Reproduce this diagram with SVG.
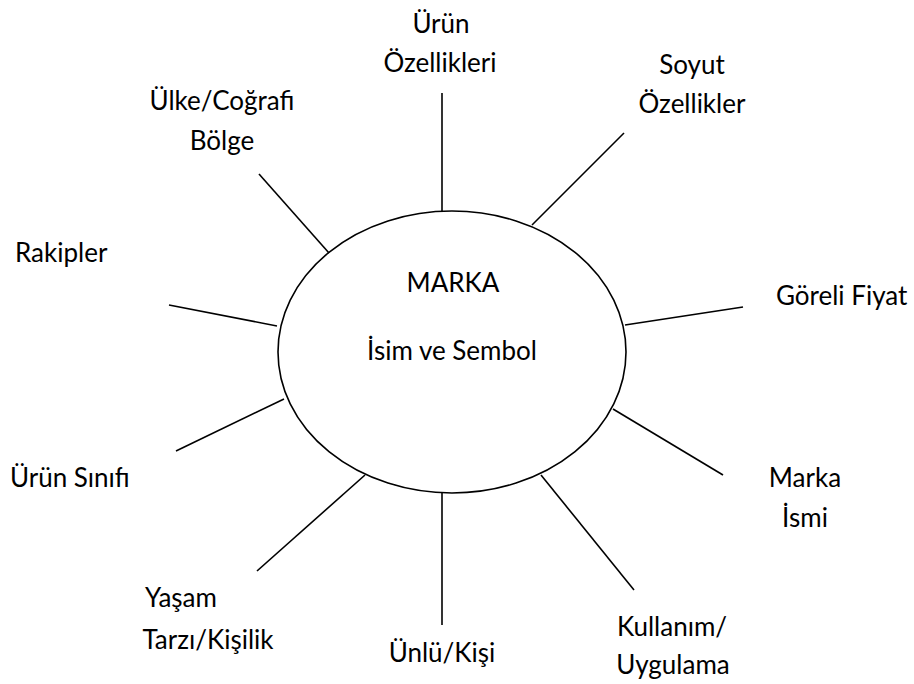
<svg xmlns="http://www.w3.org/2000/svg" width="914" height="684" viewBox="0 0 914 684">
  <style>
    .ln { stroke: #000; stroke-width: 1.6; fill: none; }
    .lbl { font-family: Lato, "Open Sans", "Liberation Sans", sans-serif; font-size: 26px; fill: #000; }
    .c { text-anchor: middle; }
  </style>
  <rect width="914" height="684" fill="#fff"/>

  <!-- spokes -->
  <g id="connectors">
    <line class="ln" x1="442" y1="93" x2="442" y2="212"/>
    <line class="ln" x1="624" y1="133" x2="532" y2="225"/>
    <line class="ln" x1="259" y1="174" x2="329" y2="253"/>
    <line class="ln" x1="169" y1="305" x2="277" y2="326"/>
    <line class="ln" x1="176" y1="451" x2="284" y2="399"/>
    <line class="ln" x1="625" y1="325" x2="743" y2="307"/>
    <line class="ln" x1="613" y1="409" x2="723" y2="475"/>
    <line class="ln" x1="365" y1="475" x2="257" y2="571"/>
    <line class="ln" x1="442" y1="493" x2="442" y2="625"/>
    <line class="ln" x1="541" y1="475" x2="634" y2="590"/>
  </g>

  <g id="marka">
    <ellipse class="ln" cx="452" cy="352" rx="174" ry="141"/>
    <text class="lbl c" x="453" y="292">MARKA</text>
    <text class="lbl c" x="452" y="360">İsim ve Sembol</text>
  </g>

  <g id="urun-ozellikleri">
    <text class="lbl c" x="441" y="33">Ürün</text>
    <text class="lbl c" x="440" y="72">Özellikleri</text>
  </g>
  <g id="soyut-ozellikler">
    <text class="lbl c" x="692" y="74">Soyut</text>
    <text class="lbl c" x="692" y="113">Özellikler</text>
  </g>
  <g id="ulke-cografi-bolge">
    <text class="lbl c" x="222" y="110">Ülke/Coğrafi</text>
    <text class="lbl c" x="222" y="150">Bölge</text>
  </g>
  <g id="rakipler">
    <text class="lbl" x="15" y="262">Rakipler</text>
  </g>
  <g id="goreli-fiyat">
    <text class="lbl" x="776" y="305">Göreli Fiyat</text>
  </g>
  <g id="urun-sinifi">
    <text class="lbl" x="10" y="487">Ürün Sınıfı</text>
  </g>
  <g id="marka-ismi">
    <text class="lbl c" x="805" y="487">Marka</text>
    <text class="lbl c" x="805" y="527">İsmi</text>
  </g>
  <g id="yasam-tarzi">
    <text class="lbl c" x="181" y="607">Yaşam</text>
    <text class="lbl c" x="208" y="649">Tarzı/Kişilik</text>
  </g>
  <g id="unlu-kisi">
    <text class="lbl c" x="442" y="662">Ünlü/Kişi</text>
  </g>
  <g id="kullanim-uygulama">
    <text class="lbl c" x="672" y="636">Kullanım/</text>
    <text class="lbl c" x="673" y="674">Uygulama</text>
  </g>
</svg>
